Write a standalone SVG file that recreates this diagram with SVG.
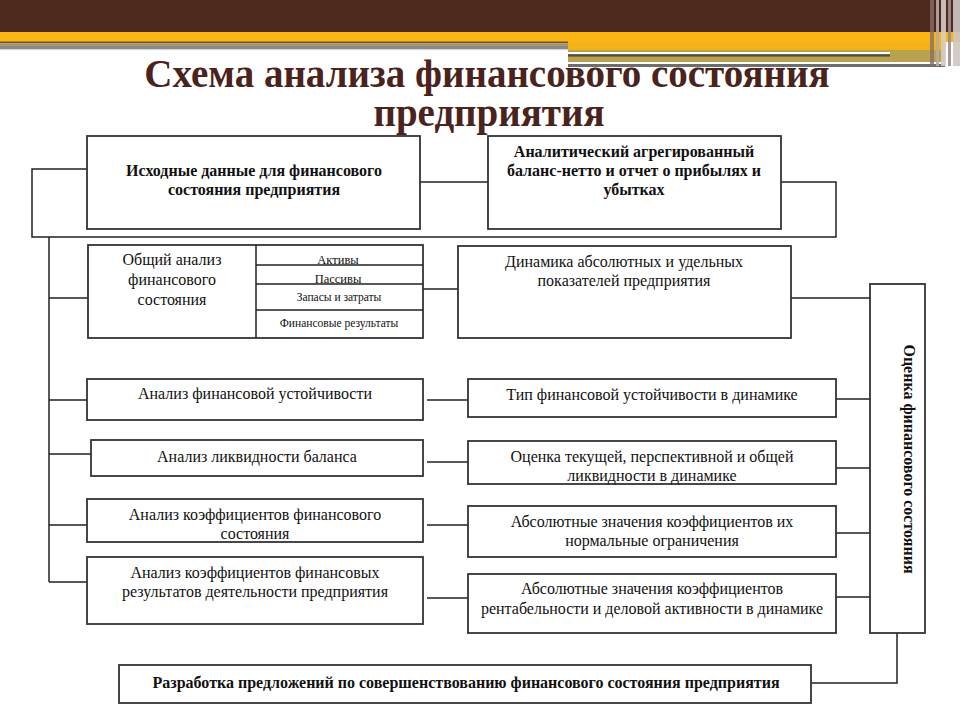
<svg xmlns="http://www.w3.org/2000/svg" width="960" height="720" viewBox="0 0 960 720">
<style>
.box{fill:#fff;stroke:#333;stroke-width:1.8}
.c{fill:none;stroke:#222;stroke-width:1.5}
.b{font-family:'Liberation Serif';font-weight:bold;font-size:16px}
.r{font-family:'Liberation Serif';font-size:16px}
.s{font-family:'Liberation Serif';font-size:11.5px}
.t{font-family:'Liberation Serif';font-weight:bold;font-size:39px;fill:#4a231c}
</style>
<rect width="960" height="720" fill="#fff"/>
<g id="banner">
<rect x="0" y="0" width="960" height="32" fill="#4e291e"/>
<rect x="0" y="32" width="960" height="10" fill="#fbb614"/>
<rect x="0" y="41.5" width="568" height="2" fill="#6e5728"/>
<rect x="0" y="43.5" width="568" height="2.5" fill="#ab9668"/>
<rect x="0" y="46" width="568" height="3" fill="#8a8a8a"/>
<rect x="0" y="49" width="568" height="1.2" fill="#d4d4d4"/>
<rect x="568" y="42" width="377" height="8" fill="#f1b21a"/>
<rect x="568" y="50" width="377" height="12" fill="#b9a24e"/>
<rect x="568" y="52" width="322" height="2.2" fill="#fff"/>
<rect x="568" y="54.2" width="322" height="2.4" fill="#5a4a3a"/>
<rect x="773" y="62" width="169" height="2" fill="#fff"/>
<rect x="568" y="64" width="377" height="3" fill="#6e6e6e"/>
<rect x="930" y="0" width="4" height="66" fill="#8a6f66" opacity="0.8"/>
<rect x="936" y="0" width="3" height="66" fill="#b9a9a4" opacity="0.9"/>
<rect x="941" y="0" width="5" height="66" fill="#d6ccc8" opacity="0.9"/>
<rect x="948" y="0" width="3" height="66" fill="#9e8c88" opacity="0.9"/>
<rect x="953" y="0" width="7" height="66" fill="#cfc6c4" opacity="0.9"/>
</g>
<g id="title" text-anchor="middle">
<text class="t" font-family="Liberation Serif" x="487" y="87">Схема анализа финансового состояния</text>
<text class="t" font-family="Liberation Serif" x="489" y="126">предприятия</text>
</g>
<g id="connectors">
<path class="c" d="M87,169 H32 V237 H836 V182 H781"/>
<path class="c" d="M420,182 H488"/>
<path class="c" d="M49,237 V582"/>
<path class="c" d="M49,298 H88 M49,400 H87 M49,454 H91 M49,525 H87 M49,582 H87"/>
<path class="c" d="M423,289 H458 M427,400 H468 M427,462 H468 M427,525 H468 M427,598 H468"/>
<path class="c" d="M791,298 H870 M836,399 H870 M836,468 H870 M832,533 H870 M836,597 H870"/>
<path class="c" d="M811,683 H897 V633"/>
</g>
<g text-anchor="middle" fill="#111">
<g id="n-ishodnye">
<rect class="box" x="87" y="136" width="333" height="93"/>
<text class="b" font-family="Liberation Serif" x="254" y="176">Исходные данные для финансового</text>
<text class="b" font-family="Liberation Serif" x="254" y="195">состояния предприятия</text>
</g>
<g id="n-analiticheskiy">
<rect class="box" x="488" y="136" width="293" height="93"/>
<text class="b" font-family="Liberation Serif" x="634" y="157">Аналитический агрегированный</text>
<text class="b" font-family="Liberation Serif" x="634" y="176">баланс-нетто и отчет о прибылях и</text>
<text class="b" font-family="Liberation Serif" x="634" y="195">убытках</text>
</g>
<g id="n-obshiy">
<rect class="box" x="88" y="245" width="335" height="93"/>
<path class="c" d="M256,245 V338 M256,265 H423 M256,284 H423 M256,310 H423"/>
<text font-family="Liberation Serif" font-size="16" x="172" y="265">Общий анализ</text>
<text font-family="Liberation Serif" font-size="16" x="172" y="285">финансового</text>
<text font-family="Liberation Serif" font-size="16" x="172" y="305">состояния</text>
<text font-family="Liberation Serif" font-size="12.5" x="338" y="264">Активы</text>
<text font-family="Liberation Serif" font-size="12.5" x="338" y="283">Пассивы</text>
<text class="s" font-family="Liberation Serif" x="339" y="301">Запасы и затраты</text>
<text class="s" font-family="Liberation Serif" x="339" y="327">Финансовые результаты</text>
</g>
<g id="n-dinamika">
<rect class="box" x="458" y="246" width="333" height="92"/>
<text class="r" font-family="Liberation Serif" x="624" y="267">Динамика абсолютных и удельных</text>
<text class="r" font-family="Liberation Serif" x="624" y="286">показателей предприятия</text>
</g>
<g id="n-ustoych">
<rect class="box" x="87" y="379" width="336" height="41"/>
<text class="r" font-family="Liberation Serif" x="255" y="399">Анализ финансовой устойчивости</text>
</g>
<g id="n-likvid">
<rect class="box" x="91" y="440" width="332" height="36"/>
<text class="r" font-family="Liberation Serif" x="257" y="462">Анализ ликвидности баланса</text>
</g>
<g id="n-koef-sost">
<rect class="box" x="87" y="499" width="336" height="43"/>
<text class="r" font-family="Liberation Serif" x="255" y="520">Анализ коэффициентов финансового</text>
<text class="r" font-family="Liberation Serif" x="255" y="539">состояния</text>
</g>
<g id="n-koef-rez">
<rect class="box" x="87" y="557" width="336" height="67"/>
<text class="r" font-family="Liberation Serif" x="255" y="578">Анализ коэффициентов финансовых</text>
<text class="r" font-family="Liberation Serif" x="255" y="597">результатов деятельности предприятия</text>
</g>
<g id="n-tip">
<rect class="box" x="468" y="379" width="368" height="38"/>
<text class="r" font-family="Liberation Serif" x="652" y="400">Тип финансовой устойчивости в динамике</text>
</g>
<g id="n-ocenka-likv">
<rect class="box" x="468" y="441" width="368" height="43"/>
<text class="r" font-family="Liberation Serif" x="652" y="462">Оценка текущей, перспективной и общей</text>
<text class="r" font-family="Liberation Serif" x="652" y="481">ликвидности в динамике</text>
</g>
<g id="n-abs-norm">
<rect class="box" x="468" y="506" width="368" height="51"/>
<text class="r" font-family="Liberation Serif" x="652" y="527">Абсолютные значения коэффициентов их</text>
<text class="r" font-family="Liberation Serif" x="652" y="546">нормальные ограничения</text>
</g>
<g id="n-abs-rent">
<rect class="box" x="468" y="574" width="368" height="59"/>
<text class="r" font-family="Liberation Serif" x="652" y="594">Абсолютные значения коэффициентов</text>
<text class="r" font-family="Liberation Serif" x="652" y="614">рентабельности и деловой активности в динамике</text>
</g>
<g id="n-ocenka">
<rect class="box" x="870" y="284" width="55" height="349"/>
<text class="b" font-family="Liberation Serif" transform="translate(904,459) rotate(90)" x="0" y="0">Оценка финансового состояния</text>
</g>
<g id="n-razrabotka">
<rect class="box" x="119" y="665" width="692" height="38"/>
<text class="b" font-family="Liberation Serif" x="466" y="688">Разработка предложений по совершенствованию финансового состояния предприятия</text>
</g>
</g>
</svg>
